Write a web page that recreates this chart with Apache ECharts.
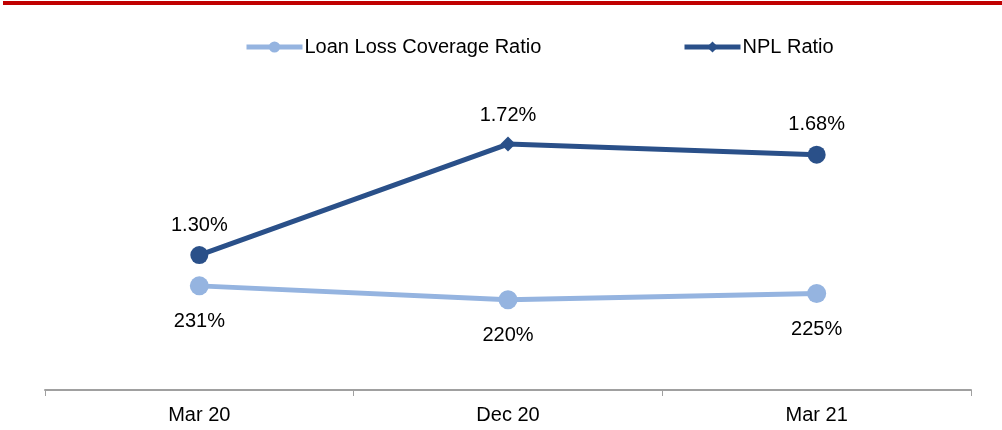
<!DOCTYPE html>
<html>
<head>
<meta charset="utf-8">
<script src="https://cdn.jsdelivr.net/npm/echarts@6/dist/echarts.min.js"></script>
<style>
html,body{margin:0;padding:0;background:#fff;}
#c{width:1002px;height:430px;}
</style>
</head>
<body>
<div id="c"></div>
<script>
var categories = ['Mar 20', 'Dec 20', 'Mar 21'];
var llcValues = [231, 220, 225];
var nplValues = [1.30, 1.72, 1.68];
var nplSymbols = ['circle', 'diamond', 'circle'];

var FONT = 'Liberation Sans, Arial, sans-serif';
var FS = 20;
var chart = echarts.init(document.getElementById('c'));

var nplData = nplValues.map(function (v, i) {
  var isDiamond = nplSymbols[i] === 'diamond';
  return {
    value: v,
    symbol: nplSymbols[i],
    symbolSize: isDiamond ? 15 : 18,
    label: { distance: 11 }
  };
});

function legendCfg(name, left) {
  return {
    top: 32,
    left: left,
    itemWidth: 56,
    itemHeight: 14,
    itemGap: 0,
    lineStyle: { width: 5 },
    textStyle: { fontFamily: FONT, fontSize: FS, color: '#000', padding: [0, 0, 0, -3] },
    data: [name]
  };
}

chart.setOption({
  animation: false,
  backgroundColor: '#ffffff',
  graphic: [{
    type: 'rect',
    shape: { x: 3, y: 1, width: 999, height: 4 },
    style: { fill: '#C00000' },
    silent: true
  }],
  legend: [
    legendCfg('Loan Loss Coverage Ratio', 239),
    legendCfg('NPL Ratio', 677)
  ],
  grid: { left: 45, right: 31, top: 70, bottom: 40, containLabel: false },
  xAxis: {
    type: 'category',
    data: categories,
    boundaryGap: true,
    axisLine: { lineStyle: { color: '#A0A0A0', width: 2 } },
    axisTick: { show: true, length: 6, lineStyle: { color: '#A0A0A0', width: 1 } },
    axisLabel: { color: '#000', fontFamily: FONT, fontSize: FS, margin: 15 },
    splitLine: { show: false }
  },
  yAxis: [
    { type: 'value', min: 149, max: 401, show: false, splitLine: { show: false } },
    { type: 'value', min: 0.79, max: 2.0, show: false, splitLine: { show: false } }
  ],
  series: [
    {
      name: 'Loan Loss Coverage Ratio',
      type: 'line',
      yAxisIndex: 0,
      data: llcValues,
      symbol: 'circle',
      symbolSize: 19,
      color: '#95B4E0',
      lineStyle: { width: 5, color: '#95B4E0' },
      itemStyle: { color: '#95B4E0' },
      label: {
        show: true,
        position: 'bottom',
        distance: 16,
        fontFamily: FONT,
        fontSize: FS,
        color: '#000',
        formatter: function (p) { return p.value + '%'; }
      }
    },
    {
      name: 'NPL Ratio',
      type: 'line',
      yAxisIndex: 1,
      data: nplData,
      symbol: 'diamond',
      color: '#2A5089',
      lineStyle: { width: 5, color: '#2A5089' },
      itemStyle: { color: '#2A5089' },
      label: {
        show: true,
        position: 'top',
        fontFamily: FONT,
        fontSize: FS,
        color: '#000',
        formatter: function (p) { return Number(p.value).toFixed(2) + '%'; }
      }
    }
  ]
});
</script>
</body>
</html>
